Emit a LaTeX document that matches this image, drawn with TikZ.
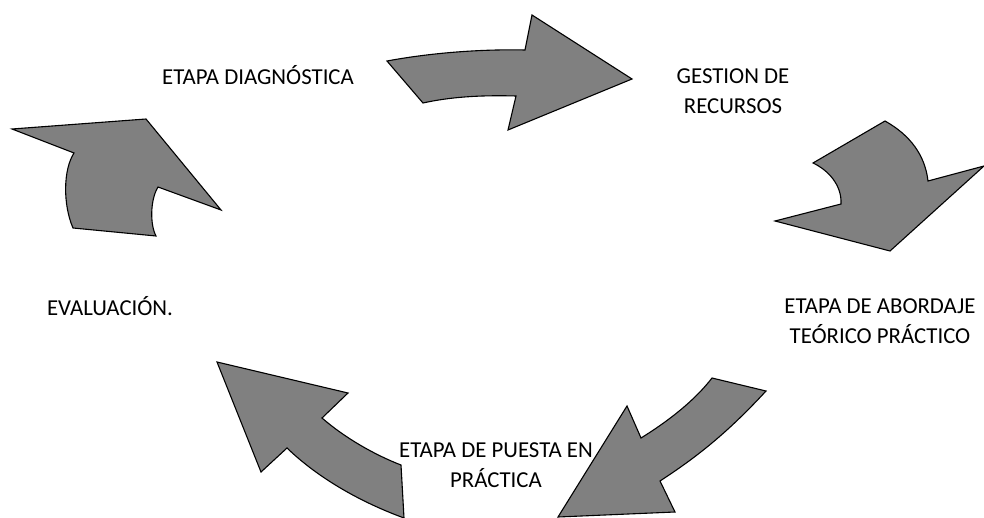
\documentclass[tikz,border=0pt]{standalone}
\usepackage{fontspec}
\setmainfont{Carlito}
\usepackage{tikz}
\usetikzlibrary{positioning}
\definecolor{arrowgray}{RGB}{128,128,128}

\begin{document}
\begin{tikzpicture}[
  x=1pt,y=-1pt,
  blockarrow/.style={draw=black,line width=1.1pt,fill=arrowgray,line join=miter},
  stage/.style={font=\fontsize{22.8}{30}\selectfont,align=center,inner sep=0pt,text=black}
]
\useasboundingbox (0,0) rectangle (984,518);
% curved block arrows
\draw[blockarrow] (387,61) .. controls (430,53) and (480,49) .. (525,50)
  -- (532,15) -- (632,79) -- (508,130) -- (516,96)
  .. controls (480,95) and (450,97) .. (423,103) -- cycle;
\draw[blockarrow] (885,121) -- (813,163) .. controls (828,170) and (842,185) .. (841,204)
  -- (775,221) -- (890,251) -- (984,166) -- (928,181)
  .. controls (925,155) and (910,135) .. cycle;
\draw[blockarrow] (712,378) -- (766,391) .. controls (730,430) and (700,455) .. (660,481)
  -- (675,512) -- (558,517) -- (627,406) -- (641,438)
  .. controls (670,420) and (695,400) .. cycle;
\draw[blockarrow] (217,362) -- (348,393) -- (322,418)
  .. controls (345,438) and (375,455) .. (401,465) -- (404,518)
  .. controls (355,500) and (315,475) .. (287,448) -- (261,472) -- cycle;
\draw[blockarrow] (12,129) -- (146,119) -- (221,210) -- (158,187)
  .. controls (150,200) and (150,225) .. (156,236) -- (73,228)
  .. controls (63,205) and (63,170) .. (74,153) -- cycle;
% stage labels
\node[stage] (diag) at (258,75) {ETAPA DIAGNÓSTICA};
\node[stage] (gest) at (733,91) {GESTION DE\\RECURSOS};
\node[stage] (abord) at (880,321) {ETAPA DE ABORDAJE\\TEÓRICO PRÁCTICO};
\node[stage] (puesta) at (496,465) {ETAPA DE PUESTA EN\\PRÁCTICA};
\node[stage] (eval) at (110,306) {EVALUACIÓN.};
\end{tikzpicture}
\end{document}
